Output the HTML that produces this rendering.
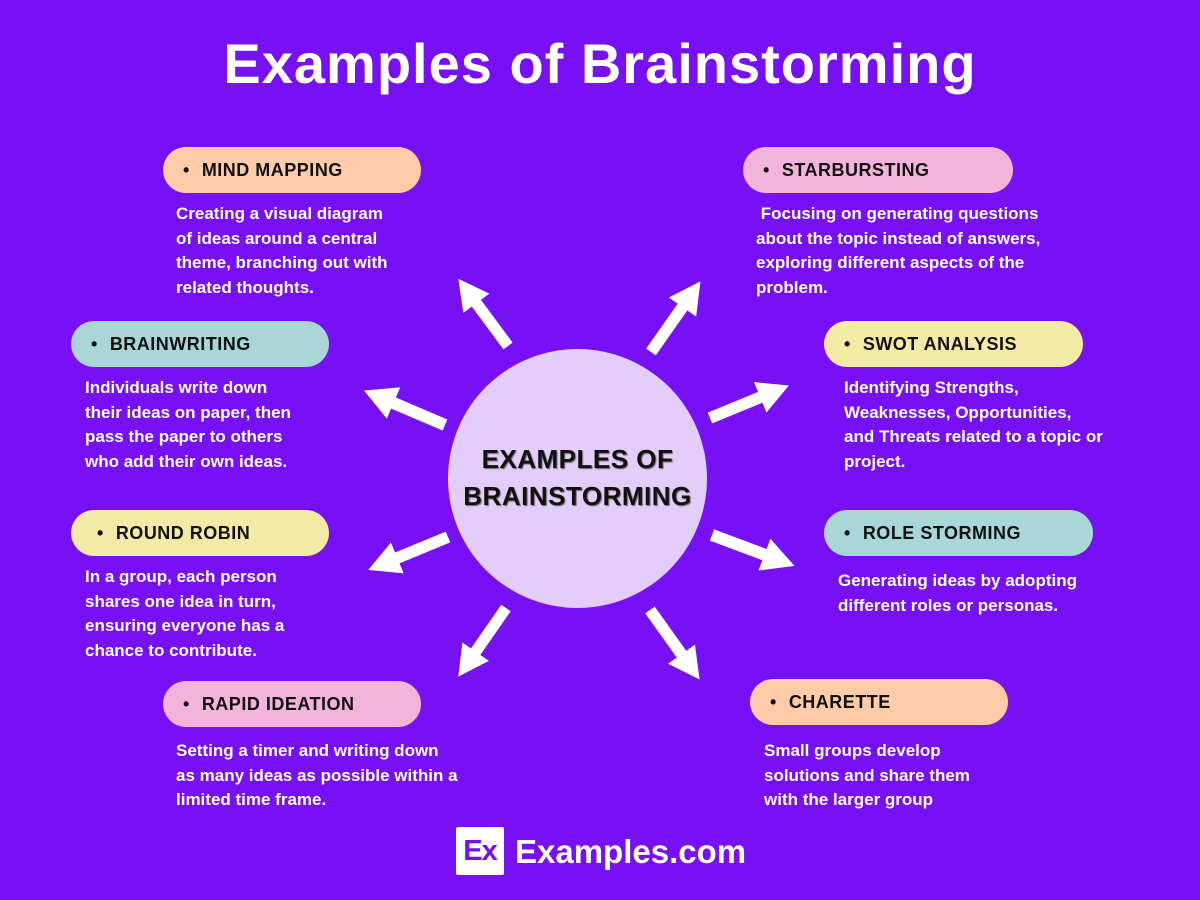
<!DOCTYPE html>
<html><head><meta charset="utf-8"><style>
body{margin:0;width:1200px;height:900px;background:#7710f4;position:relative;overflow:hidden;font-family:"Liberation Sans",sans-serif;}
.t{position:absolute;left:0;width:1200px;top:31px;text-align:center;color:#fff;font-weight:bold;font-size:56px;letter-spacing:1px;padding-left:0px;box-sizing:border-box;}
.p{position:absolute;height:46px;border-radius:23px;font-weight:bold;font-size:18px;color:#111;line-height:46px;letter-spacing:0.5px;box-sizing:border-box;padding-left:20px}
.p:before{content:"•";margin-right:12px}
.d{position:absolute;color:#fff;font-weight:bold;font-size:17px;line-height:24.5px}
.c{position:absolute;left:448px;top:349px;width:259px;height:259px;border-radius:50%;background:#e3cdfb}
.ct{position:absolute;left:448px;top:441px;width:259px;text-align:center;font-weight:bold;font-size:26px;line-height:37px;color:#111;text-shadow:1px 1px 1px #666;letter-spacing:0.5px}
</style></head><body>
<div class="t">Examples of Brainstorming</div>
<div class="c"></div>
<div class="ct">EXAMPLES OF<br>BRAINSTORMING</div>
<svg width="1200" height="900" style="position:absolute;left:0;top:0">
<defs><g id="a"><rect x="0" y="-6" width="62" height="12" fill="#fff"/><polygon points="56,-17 88,0 56,17" fill="#fff"/></g></defs>
<use href="#a" transform="translate(508,346) rotate(-126.5) scale(0.95)"/>
<use href="#a" transform="translate(651,352) rotate(-55) scale(0.98)"/>
<use href="#a" transform="translate(710,418) rotate(-22.4) scale(0.97)"/>
<use href="#a" transform="translate(712,535) rotate(20.5) scale(1)"/>
<use href="#a" transform="translate(650,610) rotate(54.5) scale(0.97)"/>
<use href="#a" transform="translate(506,608) rotate(124.8) scale(0.95)"/>
<use href="#a" transform="translate(445,425) rotate(-156.9) scale(1)"/>
<use href="#a" transform="translate(448,537) rotate(157.6) scale(0.98)"/>
</svg>
<div class="p" style="left:163px;top:147px;width:258px;background:#ffcba8">MIND MAPPING</div>
<div class="d" style="left:176px;top:202px">Creating a visual diagram<br>of ideas around a central<br>theme, branching out with<br>related thoughts.</div>
<div class="p" style="left:743px;top:147px;width:270px;background:#f3b4dc">STARBURSTING</div>
<div class="d" style="left:756px;top:202px">&nbsp;Focusing on generating questions<br>about the topic instead of answers,<br>exploring different aspects of the<br>problem.</div>
<div class="p" style="left:71px;top:321px;width:258px;background:#a9d6d6">BRAINWRITING</div>
<div class="d" style="left:85px;top:376px">Individuals write down<br>their ideas on paper, then<br>pass the paper to others<br>who add their own ideas.</div>
<div class="p" style="left:824px;top:321px;width:259px;background:#f4eaa8">SWOT ANALYSIS</div>
<div class="d" style="left:844px;top:376px">Identifying Strengths,<br>Weaknesses, Opportunities,<br>and Threats related to a topic or<br>project.</div>
<div class="p" style="left:71px;top:510px;width:258px;background:#f4eaa8;padding-left:26px">ROUND ROBIN</div>
<div class="d" style="left:85px;top:565px">In a group, each person<br>shares one idea in turn,<br>ensuring everyone has a<br>chance to contribute.</div>
<div class="p" style="left:824px;top:510px;width:269px;background:#a9d6d6">ROLE STORMING</div>
<div class="d" style="left:838px;top:569px">Generating ideas by adopting<br>different roles or personas.</div>
<div class="p" style="left:163px;top:681px;width:258px;background:#f3b4dc">RAPID IDEATION</div>
<div class="d" style="left:176px;top:739px">Setting a timer and writing down<br>as many ideas as possible within a<br>limited time frame.</div>
<div class="p" style="left:750px;top:679px;width:258px;background:#ffcba8">CHARETTE</div>
<div class="d" style="left:764px;top:739px">Small groups develop<br>solutions and share them<br>with the larger group</div>
<div style="position:absolute;left:456px;top:827px;width:48px;height:48px;background:#fff;border-radius:2px;color:#7710f4;font-weight:bold;font-size:29px;line-height:48px;text-align:center;letter-spacing:-1px">Ex</div>
<div style="position:absolute;left:515px;top:830px;color:#fff;font-weight:bold;font-size:33px;line-height:44px">Examples.com</div>
</body></html>
